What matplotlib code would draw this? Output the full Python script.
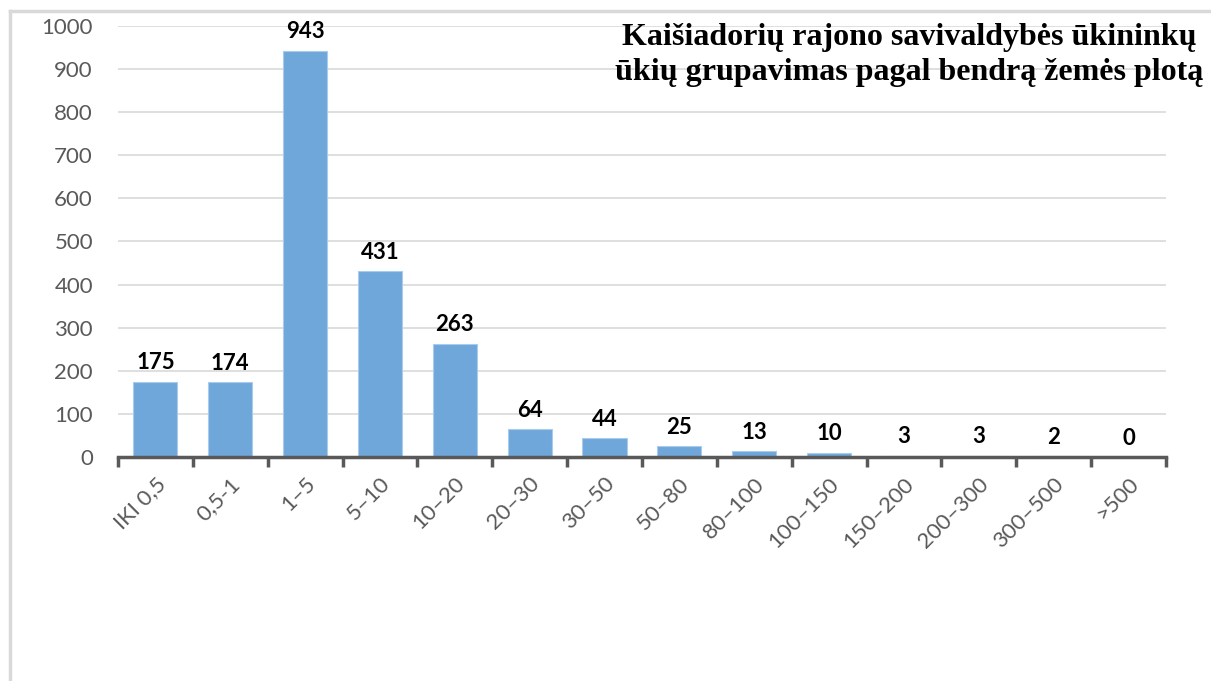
import matplotlib.pyplot as plt
from matplotlib.lines import Line2D

categories = ['IKI 0,5', '0,5-1', '1–5', '5–10', '10–20', '20–30', '30–50',
              '50–80', '80–100', '100–150', '150–200', '200–300', '300–500', '>500']
farms = [175, 174, 943, 431, 263, 64, 44, 25, 13, 10, 3, 3, 2, 0]
title = 'Kaišiadorių rajono savivaldybės ūkininkų\nūkių grupavimas pagal bendrą žemės plotą'

plt.rcParams['font.family'] = ['Lato', 'DejaVu Sans']

fig = plt.figure(figsize=(12.11, 6.81), dpi=100)
ax = fig.add_axes([0.0974, 0.329, 0.8654, 0.6328])

x = range(len(categories))
bars = ax.bar(x, farms, width=0.59, color='#70a7db', edgecolor='#a9cbec', linewidth=0.8, zorder=3)

for xi, v in zip(x, farms):
    ax.annotate(str(v), (xi, v), xytext=(0, 6), textcoords='offset points',
                ha='center', va='bottom', fontsize=16, fontweight='bold', color='black')

ax.set_xlim(-0.5, len(categories) - 0.5)
ax.set_ylim(0, 1000)
ax.set_yticks(range(0, 1001, 100))
ax.grid(axis='y', color='#d9d9d9', linewidth=1.2, zorder=0)

ax.set_xticks([i - 0.5 for i in range(len(categories) + 1)], minor=False)
ax.set_xticklabels([''] * (len(categories) + 1))
ax.set_xticks(list(x), minor=True)
ax.set_xticklabels(categories, minor=True, rotation=45, ha='right', va='top',
                   rotation_mode='anchor', fontsize=16, color='#595959')
ax.tick_params(axis='x', which='major', length=7, width=2.5, color='#595959', direction='out')
ax.tick_params(axis='x', which='minor', length=0, pad=12)
ax.tick_params(axis='y', length=0, labelsize=16, labelcolor='#595959', pad=18)

for s in ['top', 'right', 'left']:
    ax.spines[s].set_visible(False)
ax.spines['bottom'].set_color('#595959')
ax.spines['bottom'].set_linewidth(2.5)
ax.spines['bottom'].set_zorder(4)

fig.text(0.751, 0.919, title, ha='center', va='center', fontsize=23, fontweight='bold',
         family='Liberation Serif', linespacing=1.25)

# outer frame (only left and top edges visible)
fig.add_artist(Line2D([0.0085, 0.0085], [0, 0.984], color='#d9d9d9', linewidth=2.5))
fig.add_artist(Line2D([0.0085, 1.0], [0.984, 0.984], color='#d9d9d9', linewidth=2.5))

fig.savefig('out.png', dpi=100)
